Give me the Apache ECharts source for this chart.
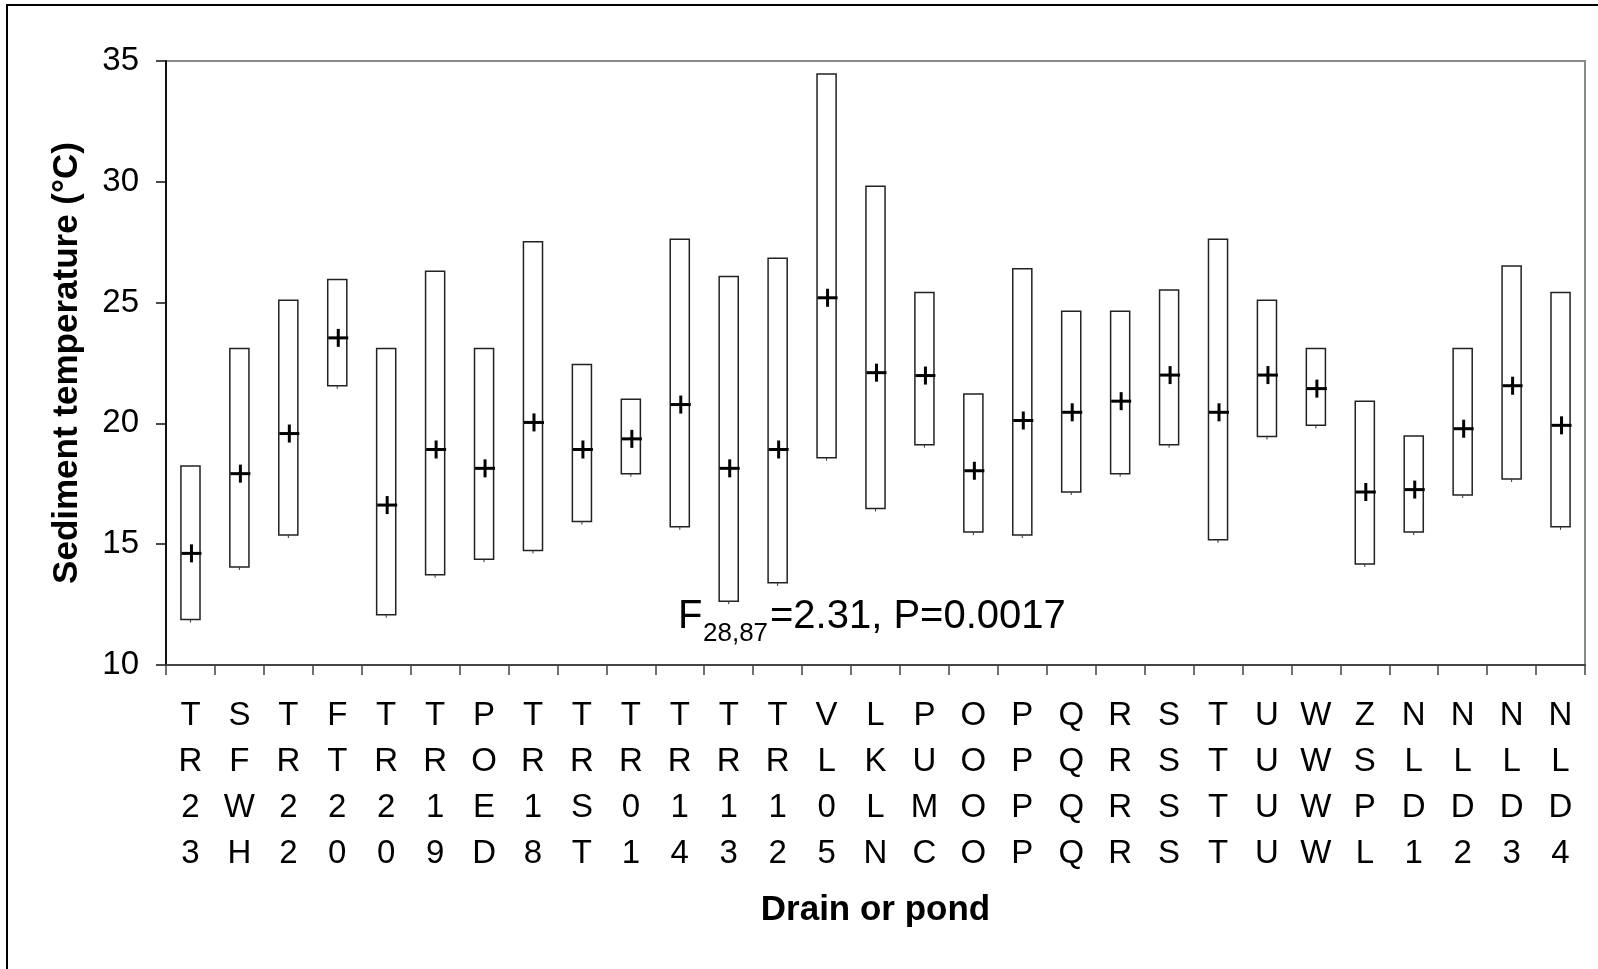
<!DOCTYPE html>
<html>
<head>
<meta charset="utf-8">
<script src="https://cdn.jsdelivr.net/npm/echarts@6/dist/echarts.min.js"></script>
<style>
html,body{margin:0;padding:0;background:#fff;}
#chart{width:1598px;height:969px;}
</style>
</head>
<body>
<div id="chart"></div>
<script>
var categories = ['TR23','SFWH','TR22','FT20','TR20','TR19','POED','TR18','TRST','TR01','TR14','TR13','TR12','VL05','LKLN','PUMC','OOOO','PPPP','QQQQ','RRRR','SSSS','TTTT','UUUU','WWWW','ZSPL','NLD1','NLD2','NLD3','NLD4'];
var lows  = [11.88,14.06,15.38,21.56,12.08,13.74,14.38,14.74,15.94,17.92,15.72,12.64,13.40,18.58,16.48,19.12,15.50,15.38,17.16,17.92,19.12,15.18,19.46,19.92,14.18,15.50,17.04,17.70,15.72];
var highs = [18.24,23.10,25.10,25.96,23.10,26.30,23.10,27.52,22.44,21.00,27.62,26.08,26.84,34.46,29.82,25.42,21.22,26.40,24.64,24.64,25.52,27.62,25.10,23.10,20.92,19.48,23.10,26.52,25.42];
var means = [14.62,17.92,19.58,23.54,16.62,18.92,18.14,20.04,18.92,19.36,20.78,18.14,18.92,25.20,22.10,21.98,18.04,20.12,20.46,20.92,22.00,20.46,22.00,21.44,17.16,17.26,19.78,21.56,19.92];
var yTicks = [10,15,20,25,30,35];

var FONT = "'Liberation Sans', Arial, sans-serif";
var chart = echarts.init(document.getElementById('chart'), null, {renderer:'canvas'});

var seriesData = categories.map(function(c,i){ return [i, lows[i], highs[i], means[i]]; });

function renderItem(params, api){
  var x = api.value(0);
  var pLow = api.coord([x, api.value(1)]);
  var pHigh = api.coord([x, api.value(2)]);
  var pMean = api.coord([x, api.value(3)]);
  var w = api.size([1,0])[0]*0.39;
  var cx = pLow[0];
  return {type:'group', children:[
    {type:'rect', shape:{x:cx-w/2, y:pHigh[1], width:w, height:pLow[1]-pHigh[1]},
     style:{fill:'#fff', stroke:'#222', lineWidth:1.5}},
    {type:'line', shape:{x1:cx, y1:pLow[1], x2:cx, y2:pLow[1]+3}, style:{stroke:'#333', lineWidth:1}},
    {type:'line', shape:{x1:cx-9, y1:pMean[1], x2:cx+11, y2:pMean[1]}, style:{stroke:'#000', lineWidth:3}},
    {type:'line', shape:{x1:cx+1, y1:pMean[1]-9, x2:cx+1, y2:pMean[1]+9}, style:{stroke:'#000', lineWidth:3}}
  ]};
}

var option = {
  animation:false,
  backgroundColor:'#fff',
  grid:{left:166, right:13, top:61, bottom:304, show:true, borderColor:'#8a8a8a', borderWidth:2, containLabel:false, outerBoundsMode:'none'},
  xAxis:{
    type:'category', data:categories, boundaryGap:true,
    name:'Drain or pond', nameLocation:'middle', nameGap:228,
    nameTextStyle:{fontFamily:FONT, fontSize:35, fontWeight:'bold', color:'#000'},
    axisLine:{lineStyle:{color:'#444', width:2}},
    axisTick:{show:true, interval:0, length:10, lineStyle:{color:'#444', width:1.5}},
    axisLabel:{interval:0, margin:28, fontFamily:FONT, fontSize:33, lineHeight:46, color:'#000',
      formatter:function(v){ return v.split('').join('\n'); }},
    splitLine:{show:false}
  },
  yAxis:{
    type:'value', min:10, max:35, interval:5,
    name:'Sediment temperature (°C)', nameLocation:'middle', nameGap:81, nameRotate:90,
    nameTextStyle:{fontFamily:FONT, fontSize:35, fontWeight:'bold', color:'#000'},
    axisLine:{show:true, lineStyle:{color:'#111', width:2}},
    axisTick:{show:true, length:10, lineStyle:{color:'#111', width:1.5}},
    axisLabel:{margin:27, fontFamily:FONT, fontSize:33, color:'#000',
      formatter:function(v){ return yTicks.indexOf(v) >= 0 ? String(v) : ''; }},
    splitLine:{show:false}
  },
  graphic:[
    {type:'rect', shape:{x:7, y:5, width:1610, height:1000}, style:{fill:'none', stroke:'#000', lineWidth:2}, z:100, silent:true},
    {type:'text', x:678, y:617, style:{text:'F', font:'40px '+FONT, fill:'#000', verticalAlign:'middle', align:'left'}, z:50},
    {type:'text', x:703, y:634, style:{text:'28,87', font:'26px '+FONT, fill:'#000', verticalAlign:'middle', align:'left'}, z:50},
    {type:'text', x:770, y:617, style:{text:'=2.31, P=0.0017', font:'40px '+FONT, fill:'#000', verticalAlign:'middle', align:'left'}, z:50}
  ],
  series:[{
    type:'custom', renderItem:renderItem, data:seriesData,
    encode:{x:0, y:[1,2,3]}, clip:false
  }]
};
chart.setOption(option);
</script>
</body>
</html>
